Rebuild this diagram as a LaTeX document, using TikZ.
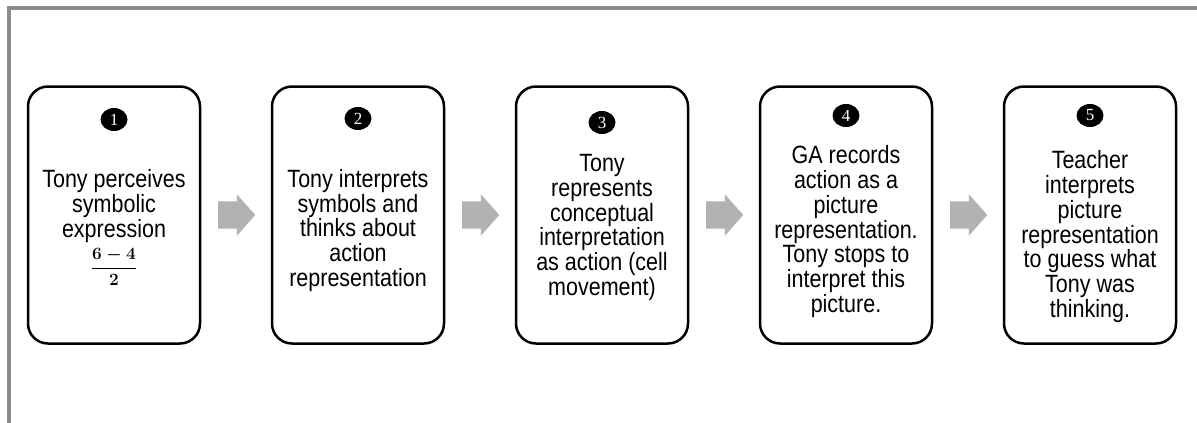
\documentclass[tikz,border=0pt]{standalone}
\usepackage{fontspec}
\usetikzlibrary{positioning,shapes.geometric,shapes.arrows}

\newfontfamily\boxfont{Liberation Sans}[FakeStretch=0.86]
\newfontfamily\numfont{Liberation Serif}
\definecolor{framegray}{RGB}{140,140,140}
\definecolor{arrowgray}{RGB}{178,178,178}

\begin{document}
\begin{tikzpicture}[x=1pt,y=1pt,node distance=244pt,
  stage/.style={rectangle,draw=black,line width=2.5pt,rounded corners=20pt,
    minimum width=172pt,minimum height=257pt,inner sep=0pt,outer sep=0pt},
  num/.style={ellipse,fill=black,text=white,minimum width=27pt,
    minimum height=23pt,inner sep=0pt,font=\numfont\fontsize{17}{17}\selectfont},
  steptext/.style={anchor=base,align=center,inner sep=0pt,
    font=\boxfont\fontsize{25}{24.8}\selectfont},
  gap arrow/.style={single arrow,fill=arrowgray,minimum height=37pt,
    inner xsep=0pt,inner ysep=13.5pt,single arrow head extend=7pt,
    single arrow tip angle=97}]

  \useasboundingbox (0,0) rectangle (1197,-423);
  % frame, open at right and bottom
  \draw[framegray,line width=3.5pt] (9,-423) -- (9,-8) -- (1197,-8);

  % the five stages
  \node[stage] (b1) at (114,-215) {};
  \node[stage] (b2) [right of=b1] {};
  \node[stage] (b3) [right of=b2] {};
  \node[stage] (b4) [right of=b3] {};
  \node[stage] (b5) [right of=b4] {};

  % arrows in the gaps
  \node[gap arrow,right=18pt of b1] (a1) {};
  \node[gap arrow,right=18pt of b2] (a2) {};
  \node[gap arrow,right=18pt of b3] (a3) {};
  \node[gap arrow,right=18pt of b4] (a4) {};

  % step numbers
  \node[num] (n1) at ([yshift=-33pt]b1.north) {1};
  \node[num] (n2) at ([yshift=-32pt]b2.north) {2};
  \node[num] (n3) at ([yshift=-36pt]b3.north) {3};
  \node[num] (n4) at ([yshift=-29pt]b4.north) {4};
  \node[num] (n5) at ([yshift=-29pt]b5.north) {5};

  % step texts (base = baseline of the last line)
  \node[steptext] (t1) at ([yshift=-186pt]b1.north)
    {Tony perceives\\symbolic\\expression\\[5pt]
     {\fontsize{18}{18}\selectfont\boldmath$\displaystyle\frac{6-4}{2}$}};
  \node[steptext] (t2) at ([yshift=-200pt]b2.north)
    {Tony interprets\\symbols and\\thinks about\\action\\representation};
  \node[steptext] (t3) at ([yshift=-209pt]b3.north)
    {Tony\\represents\\conceptual\\interpretation\\as action (cell\\movement)};
  \node[steptext] (t4) at ([yshift=-226pt]b4.north)
    {GA records\\action as a\\picture\\representation.\\Tony stops to\\interpret this\\picture.};
  \node[steptext] (t5) at ([yshift=-231pt]b5.north)
    {Teacher\\interprets\\picture\\representation\\to guess what\\Tony was\\thinking.};

\end{tikzpicture}
\end{document}
